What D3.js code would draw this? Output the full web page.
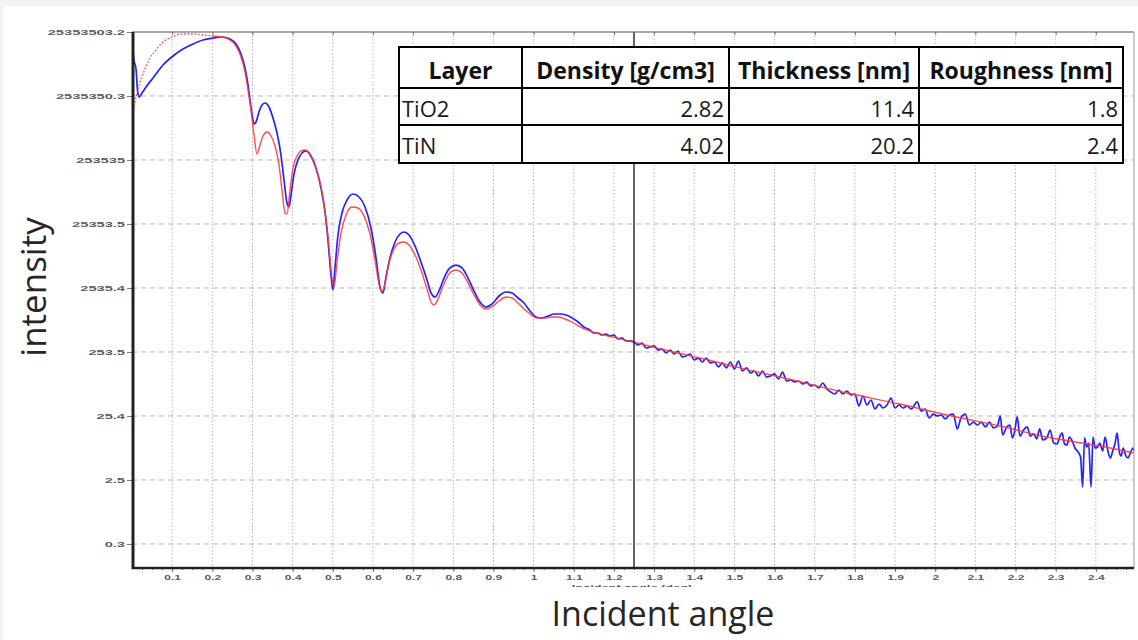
<!DOCTYPE html>
<html>
<head>
<meta charset="utf-8">
<script src="https://cdn.jsdelivr.net/npm/d3@7"></script>
<style>
  body { margin: 0; background: #f3f3f1; }
  svg { display: block; }
</style>
</head>
<body>
<svg id="chart" width="1138" height="640"></svg>
<script>
// measured reflectivity (blue)
const measuredAngle = [
  0.0025, 0.005, 0.01, 0.0137, 0.0174, 0.0249, 0.0349, 0.0523, 0.0772, 0.1021,
  0.127, 0.1519, 0.1768, 0.2017, 0.2241, 0.244, 0.259, 0.2714, 0.2814, 0.2888,
  0.2938, 0.2988, 0.3038, 0.3088, 0.3162, 0.3237, 0.3312, 0.3411, 0.3511, 0.3611,
  0.371, 0.3785, 0.386, 0.3909, 0.3959, 0.4034, 0.4133, 0.4233, 0.4333, 0.4457,
  0.4582, 0.4706, 0.4806, 0.488, 0.4955, 0.5005, 0.5055, 0.5129, 0.5229, 0.5354,
  0.5503, 0.5653, 0.5802, 0.5951, 0.6076, 0.6175, 0.625, 0.6325, 0.6424, 0.6549,
  0.6673, 0.6773, 0.6897, 0.7047, 0.7196, 0.7346, 0.7445, 0.7545, 0.7644, 0.7769,
  0.7918, 0.8068, 0.8217, 0.8367, 0.8516, 0.8665, 0.8815, 0.8964, 0.9138, 0.9313,
  0.9462, 0.9612, 0.9761, 0.991, 1.006, 1.021, 1.036, 1.051, 1.066, 1.081,
  1.096, 1.111, 1.125, 1.14,
  1.15, 1.16, 1.17, 1.18, 1.19, 1.20, 1.21, 1.22, 1.23, 1.24,
  1.25, 1.26, 1.27, 1.28, 1.29, 1.30, 1.31, 1.32, 1.33, 1.34,
  1.35, 1.36, 1.37, 1.38, 1.39, 1.40, 1.41, 1.42, 1.43, 1.44,
  1.45, 1.46, 1.47, 1.48, 1.49, 1.50, 1.51, 1.52, 1.53, 1.54,
  1.55, 1.56, 1.57, 1.58, 1.59, 1.60, 1.61, 1.62, 1.63, 1.64,
  1.65, 1.66, 1.67, 1.68, 1.69, 1.70, 1.71, 1.72, 1.73, 1.74,
  1.75, 1.76, 1.77, 1.78, 1.79, 1.80, 1.81, 1.82, 1.83, 1.84,
  1.85, 1.86, 1.87, 1.88, 1.89, 1.90, 1.91, 1.92, 1.93, 1.94,
  1.955, 1.965, 1.975, 1.985, 1.995, 2.005, 2.015, 2.025, 2.035, 2.045,
  2.055, 2.065, 2.075, 2.085, 2.095, 2.105, 2.115, 2.125, 2.135, 2.145,
  2.155, 2.162, 2.168, 2.178, 2.186, 2.192, 2.198, 2.204, 2.211, 2.22,
  2.229, 2.237, 2.245, 2.253, 2.26, 2.268, 2.278, 2.286, 2.295, 2.303,
  2.31, 2.316, 2.322, 2.328, 2.334, 2.34, 2.348, 2.356, 2.362, 2.367,
  2.372, 2.377, 2.382, 2.388, 2.393, 2.398, 2.404, 2.41, 2.417, 2.423,
  2.43, 2.436, 2.442, 2.448, 2.453, 2.458, 2.463, 2.468, 2.474, 2.48,
  2.486, 2.492, 2.495
];
const measured = [
  1.28e7, 9.26e6, 6.70e6, 3.15e6, 2.44e6, 2.82e6, 3.51e6, 4.84e6, 7.73e6, 1.069e7,
  1.375e7, 1.646e7, 1.901e7, 2.042e7, 2.118e7, 1.972e7, 1.646e7, 1.148e7, 6.94e6, 3.77e6,
  2.195e6, 1.327e6, 9.26e5, 9.95e5, 1.426e6, 1.832e6, 1.972e6, 1.706e6, 1.148e6, 6.70e5,
  3.03e5, 1.235e5, 5.40e4, 4.68e4, 7.19e4, 1.531e5, 2.535e5, 3.26e5, 3.51e5, 2.93e5,
  1.901e5, 9.26e4, 3.905e4, 1.426e4, 4.05e3, 2.36e3, 5.21e3, 1.706e4, 3.77e4, 6.01e4,
  7.46e4, 6.70e4, 4.68e4, 2.195e4, 7.46e3, 2.63e3, 2.12e3, 3.77e3, 7.46e3, 1.327e4,
  1.77e4, 1.901e4, 1.706e4, 1.148e4, 6.46e3, 3.38e3, 2.12e3, 1.832e3, 2.275e3, 3.63e3,
  5.21e3, 5.79e3, 5.21e3, 3.63e3, 2.275e3, 1.531e3, 1.279e3, 1.426e3, 1.901e3, 2.195e3,
  2.12e3, 1.77e3, 1.479e3, 1.109e3, 893, 861, 926, 995, 995, 959,
  861, 746, 624, 560,
  502, 502, 467, 484, 451, 467, 405, 420, 377, 377,
  363, 326, 350, 293, 303, 315, 272, 282, 245, 272,
  236, 263, 212, 220, 236, 190, 204, 177, 204, 171,
  177, 148, 171, 143, 177, 138, 183, 128, 143, 119,
  128, 107, 128, 103, 107, 115, 96.0, 123, 89.3, 92.6,
  86.2, 89.3, 80.2, 86.2, 74.6, 77.3, 69.4, 83.1, 67.0, 60.1,
  55.9, 64.6, 55.9, 62.3, 54.0, 55.9, 36.3, 52.1, 37.7, 45.1,
  32.6, 39.0, 33.8, 37.7, 48.4, 33.8, 37.7, 33.8, 36.3, 32.6,
  42.0, 30.3, 32.6, 23.6, 27.2, 25.4, 26.3, 22.8, 26.3, 27.2,
  15.9, 24.5, 27.2, 18.3, 20.4, 18.3, 20.4, 17.1, 20.4, 16.5,
  17.7, 25.4, 12.8, 17.1, 18.3, 11.5, 14.8, 24.5, 12.3, 15.3,
  17.1, 12.3, 13.3, 11.1, 15.9, 10.7, 11.5, 15.3, 9.60, 9.26,
  11.9, 13.8, 9.26, 8.93, 11.9, 10.7, 8.02, 6.94, 5.80, 1.97,
  11.5, 8.31, 9.60, 1.97, 11.9, 8.02, 8.31, 9.60, 7.20, 11.9,
  7.20, 5.59, 7.20, 9.60, 13.8, 7.20, 6.01, 8.02, 6.23, 5.59,
  6.70, 8.02, 7.20
];

// simulated fit (red)
const simAngle = [
  0.0025, 0.01, 0.0199, 0.0324, 0.0448, 0.0598, 0.0772, 0.0996, 0.1245, 0.1519,
  0.1768, 0.2017, 0.2241, 0.244, 0.259, 0.2714, 0.2814, 0.2888, 0.2963, 0.3038,
  0.3113, 0.3187, 0.3262, 0.3362, 0.3461, 0.3561, 0.366, 0.3735, 0.381, 0.386,
  0.3934, 0.4009, 0.4109, 0.4208, 0.4308, 0.4432, 0.4557, 0.4681, 0.4781, 0.488,
  0.4955, 0.503, 0.5105, 0.5204, 0.5329, 0.5478, 0.5628, 0.5777, 0.5926, 0.6051,
  0.615, 0.6225, 0.63, 0.6399, 0.6524, 0.6649, 0.6773, 0.6897, 0.7047, 0.7196,
  0.7346, 0.7445, 0.752, 0.762, 0.7744, 0.7894, 0.8068, 0.8217, 0.8367, 0.8516,
  0.8665, 0.8815, 0.8964, 0.9138, 0.9313, 0.9462, 0.9612, 0.9761, 0.991, 1.0085,
  1.026, 1.0433, 1.0608, 1.0782, 1.0956, 1.1155, 1.1404, 1.1653, 1.1977, 1.2475,
  1.2973, 1.3471, 1.4143, 1.514, 1.6135, 1.78, 1.912, 2.029, 2.161, 2.278,
  2.41, 2.495
];
const simulated = [
  1.374e6, 2.44e6, 4.20e6, 6.70e6, 9.95e6, 1.327e7, 1.77e7, 2.118e7, 2.36e7, 2.36e7,
  2.275e7, 2.195e7, 2.118e7, 1.901e7, 1.531e7, 1.030e7, 6.01e6, 3.15e6, 1.531e6, 6.24e5,
  3.15e5, 4.35e5, 6.01e5, 6.94e5, 6.01e5, 4.20e5, 2.12e5, 8.61e4, 3.77e4, 3.63e4,
  8.61e4, 1.901e5, 2.93e5, 3.51e5, 3.63e5, 3.03e5, 2.04e5, 1.148e5, 5.21e4, 1.646e4,
  4.84e3, 2.63e3, 6.46e3, 1.832e4, 3.51e4, 4.68e4, 4.51e4, 3.38e4, 1.77e4, 6.94e3,
  2.93e3, 2.195e3, 3.03e3, 6.24e3, 1.030e4, 1.279e4, 1.327e4, 1.191e4, 8.32e3, 4.84e3,
  2.44e3, 1.531e3, 1.374e3, 1.706e3, 2.72e3, 4.20e3, 4.84e3, 4.35e3, 3.03e3, 1.972e3,
  1.374e3, 1.191e3, 1.279e3, 1.589e3, 1.832e3, 1.77e3, 1.479e3, 1.191e3, 995, 861,
  861, 893, 893, 832, 746, 624, 540, 484, 434, 363,
  303, 254, 204, 143, 103, 57.9, 39.0, 26.3, 17.7, 11.9,
  8.61, 6.70
];
const fitStart = 0.2017;   // red is dotted below this angle
const cursorAngle = 1.25;

const xTickLabels = ['0.1','0.2','0.3','0.4','0.5','0.6','0.7','0.8','0.9','1','1.1','1.2',
  '1.3','1.4','1.5','1.6','1.7','1.8','1.9','2','2.1','2.2','2.3','2.4'];
const yTickValues = [25353503.2, 2535350.32, 253535.032, 25353.5032, 2535.35032,
  253.535032, 25.3535032, 2.53535032, 0.253535032];
const yTickLabels = ['25353503.2','2535350.3','253535','25353.5','2535.4','253.5','25.4','2.5','0.3'];

const tableHeader = ['Layer', 'Density [g/cm3]', 'Thickness [nm]', 'Roughness [nm]'];
const layers = ['TiO2', 'TiN'];
const density = ['2.82', '4.02'];
const thickness = ['11.4', '20.2'];
const roughness = ['1.8', '2.4'];

///////////////////////////////////////////////////////////////
const svg = d3.select('#chart');
const plot = {left: 132, right: 1134, top: 32, bottom: 568};
const font = "'Open Sans', Lato, sans-serif";
const tickFont = "'Liberation Sans', Arial, sans-serif";

// stretched tiny tick text, like the instrument software export
function stretch(sel, k) {
  sel.each(function() {
    const w = this.getComputedTextLength();
    d3.select(this).attr('textLength', w * k).attr('lengthAdjust', 'spacingAndGlyphs');
  });
}

svg.append('rect').attr('x', 3).attr('y', 6).attr('width', 1135).attr('height', 634).attr('fill', '#fff');

const x = d3.scaleLinear().domain([0, 2.495]).range([plot.left, plot.right]);
const y = d3.scaleLog().domain([0.1069, 25353503.2]).range([plot.bottom, plot.top]);
const xTickValues = xTickLabels.map(Number);

// grid
svg.append('g').selectAll('line').data(xTickValues).join('line')
    .attr('x1', d => x(d)).attr('x2', d => x(d))
    .attr('y1', plot.top).attr('y2', plot.bottom)
    .attr('stroke', '#b8b8b8').attr('stroke-dasharray', '1.5,2');
svg.append('g').selectAll('line').data(yTickValues.slice(1)).join('line')
    .attr('x1', plot.left).attr('x2', plot.right)
    .attr('y1', d => y(d)).attr('y2', d => y(d))
    .attr('stroke', '#b8b8b8').attr('stroke-dasharray', '5,4');

// axes
const xAxis = svg.append('g')
    .attr('transform', 'translate(0,' + plot.bottom + ')')
    .call(d3.axisBottom(x).tickValues(xTickValues).tickFormat((d, i) => xTickLabels[i])
        .tickSize(4).tickPadding(3));
const minor = d3.range(0.025, 2.49, 0.025);
svg.append('g')
    .attr('transform', 'translate(0,' + plot.bottom + ')')
    .call(d3.axisBottom(x).tickValues(minor).tickFormat('').tickSize(2))
    .call(g => g.select('.domain').remove())
    .selectAll('line').attr('stroke', '#666');
svg.append('g')
    .attr('transform', 'translate(0,' + plot.top + ')')
    .call(d3.axisBottom(x).tickValues(xTickValues).tickFormat('').tickSize(3))
    .call(g => g.select('.domain').remove())
    .selectAll('line').attr('stroke', '#777');
const yAxis = svg.append('g')
    .attr('transform', 'translate(' + plot.left + ',0)')
    .call(d3.axisLeft(y).tickValues(yTickValues).tickFormat((d, i) => yTickLabels[i])
        .tickSize(5).tickPadding(2));

[xAxis, yAxis].forEach(g => {
  g.select('.domain').remove();
  g.selectAll('.tick line').attr('stroke', '#777');
  g.selectAll('text').attr('font-family', tickFont).attr('font-size', 7.5)
      .attr('font-weight', 'bold').attr('fill', '#5a5a5a');
});
xAxis.selectAll('text').call(stretch, 1.6);
yAxis.selectAll('text').call(stretch, 1.95);

// curves
svg.append('clipPath').attr('id', 'clip').append('rect')
    .attr('x', plot.left).attr('y', plot.top - 2)
    .attr('width', plot.right - plot.left).attr('height', plot.bottom - plot.top + 2);

const line = d3.line().x(d => x(d[0])).y(d => y(d[1])).curve(d3.curveMonotoneX);
const blue = measuredAngle.map((a, i) => [a, measured[i]]);
const red = simAngle.map((a, i) => [a, simulated[i]]);
const curves = svg.append('g').attr('clip-path', 'url(#clip)');

curves.append('path').datum(blue).attr('d', line)
    .attr('fill', 'none').attr('stroke', '#2424ff').attr('stroke-width', 1.7)
    .attr('stroke-linejoin', 'round');
curves.append('path').datum(red.filter(d => d[0] <= fitStart)).attr('d', line)
    .attr('fill', 'none').attr('stroke', '#ff3a3a').attr('stroke-width', 1.3)
    .attr('stroke-dasharray', '1.5,2');
curves.append('path').datum(red.filter(d => d[0] >= fitStart)).attr('d', line)
    .attr('fill', 'none').attr('stroke', '#ff3a3a').attr('stroke-width', 1.4)
    .attr('stroke-opacity', 0.9).attr('stroke-linejoin', 'round');

// cursor
svg.append('line')
    .attr('x1', x(cursorAngle)).attr('x2', x(cursorAngle))
    .attr('y1', plot.top).attr('y2', plot.bottom)
    .attr('stroke', '#111').attr('stroke-width', 1.3);

// frame
svg.append('line').attr('x1', plot.left).attr('x2', plot.right).attr('y1', plot.top).attr('y2', plot.top)
    .attr('stroke', '#555').attr('stroke-width', 1.2);
svg.append('line').attr('x1', plot.right).attr('x2', plot.right).attr('y1', plot.top).attr('y2', plot.bottom)
    .attr('stroke', '#999').attr('stroke-width', 1);
svg.append('line').attr('x1', plot.left).attr('x2', plot.right).attr('y1', plot.bottom).attr('y2', plot.bottom)
    .attr('stroke', '#222').attr('stroke-width', 2.5);
svg.append('line').attr('x1', plot.left + 1).attr('x2', plot.left + 1).attr('y1', plot.top).attr('y2', plot.bottom + 1)
    .attr('stroke', '#222').attr('stroke-width', 3);

// small software axis caption, half cut off
svg.append('clipPath').attr('id', 'capclip').append('rect')
    .attr('x', 500).attr('y', 578).attr('width', 260).attr('height', 9);
svg.append('text')
    .attr('clip-path', 'url(#capclip)')
    .attr('x', 632).attr('y', 590)
    .attr('text-anchor', 'middle')
    .attr('font-family', tickFont).attr('font-size', 7.5).attr('font-weight', 'bold')
    .attr('fill', '#4a5670')
    .text('Incident angle (deg)')
    .call(stretch, 1.7);

// titles
svg.append('text')
    .attr('transform', 'translate(46,287) rotate(-90)')
    .attr('text-anchor', 'middle')
    .attr('font-family', font).attr('font-size', 35).attr('fill', '#262626')
    .text('intensity');
svg.append('text')
    .attr('x', 663).attr('y', 626)
    .attr('text-anchor', 'middle')
    .attr('font-family', font).attr('font-size', 34).attr('fill', '#262626')
    .text('Incident angle');

// parameter table
const colEdges = [399, 522, 729, 919, 1123];
const rowEdges = [47, 88, 125, 163];
const rows = layers.map((l, i) => [l, density[i], thickness[i], roughness[i]]);
const table = svg.append('g');
table.append('rect')
    .attr('x', colEdges[0]).attr('y', rowEdges[0])
    .attr('width', colEdges[4] - colEdges[0]).attr('height', rowEdges[3] - rowEdges[0])
    .attr('fill', '#fff');
table.selectAll('.hl').data(rowEdges).join('line')
    .attr('x1', colEdges[0] - 1).attr('x2', colEdges[4] + 1)
    .attr('y1', d => d).attr('y2', d => d)
    .attr('stroke', '#000').attr('stroke-width', 2);
table.selectAll('.vl').data(colEdges).join('line')
    .attr('x1', d => d).attr('x2', d => d)
    .attr('y1', rowEdges[0] - 1).attr('y2', rowEdges[3] + 1)
    .attr('stroke', '#000').attr('stroke-width', 2);
table.selectAll('.head').data(tableHeader).join('text')
    .attr('x', (d, i) => (colEdges[i] + colEdges[i + 1]) / 2)
    .attr('y', rowEdges[0] + 32)
    .attr('text-anchor', 'middle')
    .attr('font-family', font).attr('font-size', 23).attr('font-weight', 'bold')
    .attr('fill', '#111')
    .text(d => d);
rows.forEach((r, ri) => {
  table.selectAll('.row' + ri).data(r).join('text')
      .attr('x', (d, i) => i === 0 ? colEdges[0] + 3 : colEdges[i + 1] - 5)
      .attr('y', rowEdges[ri + 1] + 29)
      .attr('text-anchor', (d, i) => i === 0 ? 'start' : 'end')
      .attr('font-family', font).attr('font-size', 22)
      .attr('fill', '#1a1a1a')
      .text(d => d);
});
</script>
</body>
</html>
